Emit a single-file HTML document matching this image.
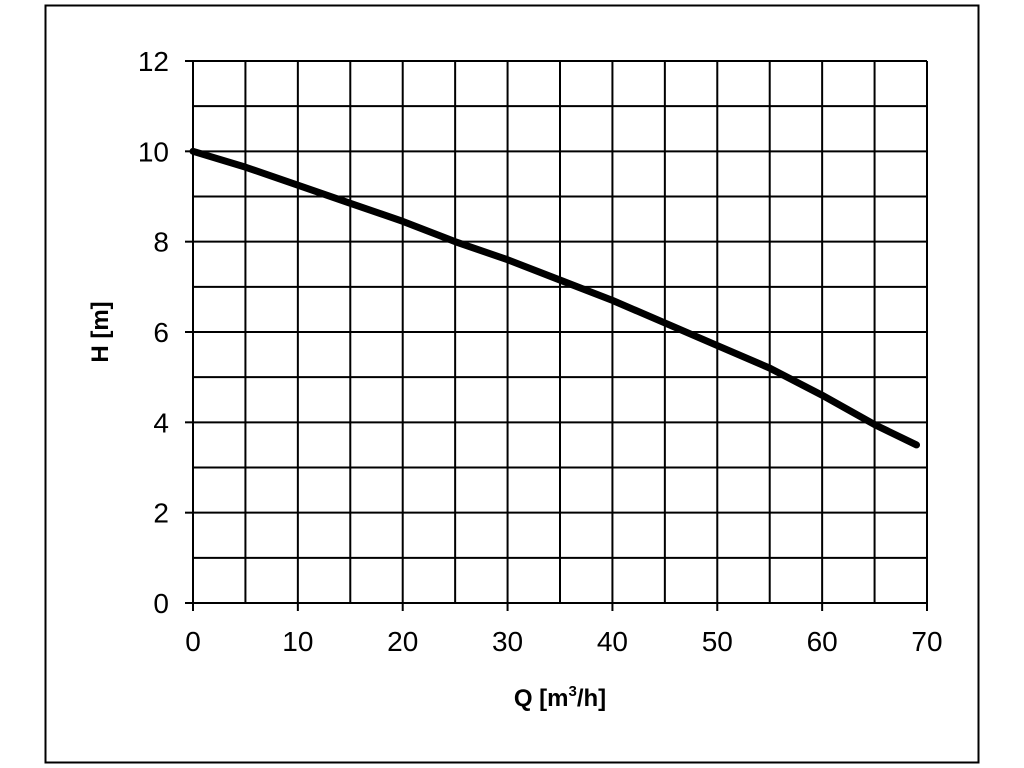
<!DOCTYPE html>
<html><head><meta charset="utf-8"><style>
html,body{margin:0;padding:0;background:#fff;}
svg{display:block;font-family:"Liberation Sans",Arial,sans-serif;}
.tl{font-size:28px;}
.at{font-size:24px;font-weight:bold;}
</style></head><body>
<svg id="chart" width="1024" height="768">
<rect x="45.5" y="5.5" width="933" height="757" fill="#fff" stroke="#000" stroke-width="2"/>
<g id="grid"></g>
<g id="ticks"></g>
<g id="curve"></g>
<text class="at" x="108" y="332" text-anchor="middle" transform="rotate(-90 108 332)">H [m]</text>
<text class="at" x="560" y="706" text-anchor="middle">Q [m<tspan style="font-size:15px" dy="-10">3</tspan><tspan dy="10">/h]</tspan></text>
</svg>
<script>
const xTicks=[0,10,20,30,40,50,60,70];
const yTicks=[0,2,4,6,8,10,12];
const seriesQ=[0,5,10,15,20,25,30,35,40,45,50,55,60,65,69];
const seriesH=[10,9.65,9.25,8.85,8.45,8.0,7.6,7.15,6.7,6.2,5.7,5.2,4.6,3.95,3.5];
const L=193,R=927,T=61,B=603;
const xs=v=>L+(v/70)*(R-L);
const ys=v=>B-(v/12)*(B-T);
const NS='http://www.w3.org/2000/svg';
const grid=document.getElementById('grid'),ticks=document.getElementById('ticks'),curve=document.getElementById('curve');
function line(p,x1,y1,x2,y2,w){const l=document.createElementNS(NS,'line');l.setAttribute('x1',x1);l.setAttribute('y1',y1);l.setAttribute('x2',x2);l.setAttribute('y2',y2);l.setAttribute('stroke','#000');l.setAttribute('stroke-width',w);p.appendChild(l);return l;}
for(let v=0;v<=70;v+=5){const l=line(grid,xs(v),T,xs(v),B,2);

}
for(let v=0;v<=12;v+=1){const l=line(grid,L,ys(v),R,ys(v),2);

}
xTicks.forEach(v=>{const l=line(ticks,xs(v),B,xs(v),B+8,2);


const t=document.createElementNS(NS,'text');t.setAttribute('x',xs(v));t.setAttribute('y',B+48);t.setAttribute('class','tl');t.setAttribute('text-anchor','middle');t.textContent=v;


ticks.appendChild(t);});
yTicks.forEach(v=>{const l=line(ticks,L-8,ys(v),L,ys(v),2);


const t=document.createElementNS(NS,'text');t.setAttribute('x',L-24);t.setAttribute('y',ys(v)+10);t.setAttribute('class','tl');t.setAttribute('text-anchor','end');t.textContent=v;


ticks.appendChild(t);});
const p=document.createElementNS(NS,'polyline');
p.setAttribute('points',seriesQ.map((q,i)=>xs(q)+','+ys(seriesH[i])).join(' '));
p.setAttribute('fill','none');p.setAttribute('stroke','#000');p.setAttribute('stroke-width','7');p.setAttribute('stroke-linecap','round');p.setAttribute('stroke-linejoin','round');


curve.appendChild(p);
</script>
</body></html>
